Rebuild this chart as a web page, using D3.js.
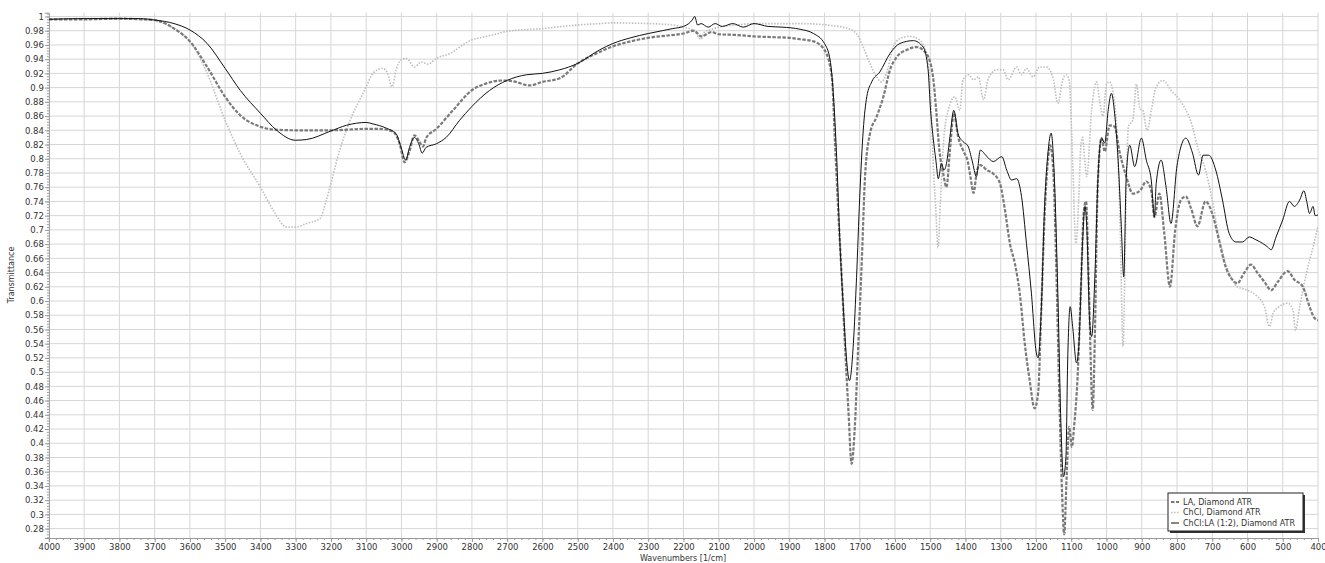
<!DOCTYPE html>
<html>
<head>
<meta charset="utf-8">
<script src="https://cdn.jsdelivr.net/npm/d3@7"></script>
<style>
body { margin: 0; background: #fff; }
text { font-family: "DejaVu Sans", Verdana, sans-serif; fill: #333; }
.grid line { stroke: #d6d6d6; stroke-width: 1; }
.axis path, .axis line { stroke: #999; }
</style>
</head>
<body>
<script>
// LA, Diamond ATR
var laWave = [4000,3900,3800,3740,3700,3645,3600,3551,3500,3457,3400,3363,3301,3200,3100,3062,3024,3005,2991,2977,2963,2949,2939,2930,2901,2854,2801,2759,2712,2684,2636,2600,2551,2500,2438,2400,2350,2300,2250,2200,2170,2150,2120,2100,2050,2000,1950,1900,1869,1831,1800,1779,1770,1761,1751,1742,1732,1723,1714,1704,1694,1685,1671,1652,1633,1614,1595,1567,1539,1511,1492,1483,1474,1463,1454,1444,1433,1421,1407,1393,1386,1377,1367,1358,1339,1321,1302,1288,1274,1260,1246,1232,1218,1204,1194,1185,1176,1166,1160,1151,1143,1134,1126,1120,1113,1106,1098,1092,1082,1073,1064,1058,1050,1039,1033,1025,1014,1005,991,977,963,944,925,905,887,873,864,850,836,820,805,789,775,760,742,719,700,681,662,643,629,610,590,571,552,533,514,486,467,443,424,410,400];
var laT = [0.996,0.996,0.997,0.996,0.995,0.983,0.965,0.929,0.887,0.861,0.845,0.841,0.840,0.840,0.842,0.842,0.838,0.821,0.795,0.811,0.833,0.824,0.817,0.829,0.842,0.868,0.896,0.906,0.910,0.909,0.903,0.908,0.913,0.934,0.950,0.958,0.965,0.970,0.973,0.976,0.980,0.972,0.978,0.975,0.974,0.972,0.971,0.970,0.968,0.965,0.953,0.915,0.821,0.727,0.633,0.540,0.446,0.371,0.422,0.540,0.657,0.774,0.835,0.859,0.887,0.925,0.943,0.953,0.957,0.948,0.915,0.868,0.812,0.779,0.760,0.812,0.864,0.831,0.812,0.795,0.775,0.752,0.784,0.791,0.784,0.779,0.765,0.728,0.681,0.653,0.611,0.541,0.489,0.449,0.470,0.587,0.714,0.798,0.819,0.784,0.658,0.470,0.330,0.272,0.353,0.423,0.395,0.423,0.493,0.611,0.728,0.740,0.620,0.447,0.550,0.760,0.829,0.810,0.847,0.845,0.810,0.775,0.751,0.755,0.768,0.755,0.718,0.751,0.695,0.620,0.700,0.742,0.747,0.730,0.705,0.740,0.723,0.686,0.648,0.630,0.625,0.639,0.651,0.639,0.627,0.615,0.627,0.642,0.630,0.620,0.592,0.576,0.573];

// ChCl, Diamond ATR
var chclWave = [4000,3900,3800,3740,3700,3645,3600,3551,3500,3457,3400,3363,3326,3301,3269,3231,3213,3175,3137,3119,3100,3081,3053,3039,3027,3015,3001,2986,2963,2944,2925,2901,2854,2835,2801,2769,2741,2701,2600,2500,2438,2400,2300,2230,2200,2170,2150,2140,2120,2100,2050,2000,1900,1869,1775,1727,1704,1690,1671,1652,1638,1624,1605,1586,1558,1530,1511,1499,1492,1484,1478,1470,1461,1449,1430,1416,1407,1391,1377,1363,1349,1335,1311,1293,1279,1255,1241,1227,1208,1190,1171,1152,1138,1124,1115,1106,1096,1087,1078,1073,1068,1062,1056,1042,1028,1019,1010,1000,991,975,962,953,946,938,925,915,905,897,885,872,860,840,815,793,756,742,719,700,681,662,643,629,605,576,552,538,527,510,486,471,464,452,433,414,400];
var chclT = [0.996,0.997,0.997,0.996,0.994,0.983,0.965,0.920,0.854,0.807,0.760,0.727,0.704,0.704,0.709,0.716,0.742,0.812,0.864,0.882,0.901,0.920,0.927,0.920,0.901,0.925,0.939,0.941,0.929,0.936,0.933,0.941,0.950,0.957,0.967,0.971,0.974,0.979,0.983,0.988,0.990,0.991,0.990,0.988,0.985,0.980,0.968,0.978,0.982,0.985,0.988,0.990,0.990,0.990,0.987,0.982,0.972,0.957,0.934,0.915,0.908,0.920,0.957,0.969,0.972,0.967,0.948,0.892,0.798,0.727,0.675,0.751,0.831,0.868,0.887,0.868,0.911,0.918,0.911,0.915,0.883,0.913,0.925,0.925,0.911,0.929,0.918,0.927,0.915,0.929,0.929,0.915,0.878,0.911,0.918,0.911,0.798,0.681,0.751,0.817,0.830,0.800,0.775,0.869,0.908,0.880,0.860,0.905,0.908,0.870,0.720,0.536,0.700,0.845,0.855,0.905,0.870,0.868,0.840,0.870,0.900,0.910,0.895,0.883,0.845,0.817,0.784,0.742,0.690,0.653,0.630,0.620,0.616,0.608,0.592,0.564,0.583,0.592,0.597,0.587,0.559,0.592,0.639,0.676,0.705];

// ChCl:LA (1:2), Diamond ATR
var mixWave = [4000,3900,3800,3740,3700,3645,3600,3551,3500,3457,3400,3354,3301,3269,3200,3156,3100,3081,3043,3015,3001,2988,2977,2963,2951,2941,2930,2901,2873,2835,2801,2750,2701,2646,2600,2551,2500,2438,2400,2350,2300,2260,2230,2200,2185,2175,2168,2160,2150,2130,2110,2090,2060,2030,2000,1960,1920,1869,1831,1800,1784,1775,1765,1756,1746,1737,1729,1718,1709,1700,1690,1680,1666,1643,1614,1586,1548,1520,1506,1499,1492,1484,1477,1468,1461,1454,1444,1433,1421,1407,1393,1381,1369,1358,1339,1321,1297,1283,1269,1255,1241,1227,1213,1199,1194,1185,1176,1166,1157,1148,1138,1129,1122,1115,1110,1103,1096,1085,1078,1068,1061,1056,1047,1042,1033,1024,1014,1005,995,986,977,967,958,951,944,934,920,901,887,873,864,859,845,831,817,800,775,756,739,726,710,690,671,652,633,614,595,576,557,543,533,519,500,481,467,452,440,432,424,414,408,400];
var mixT = [0.996,0.997,0.997,0.997,0.995,0.990,0.981,0.962,0.927,0.896,0.864,0.840,0.826,0.827,0.839,0.847,0.851,0.849,0.843,0.835,0.816,0.798,0.816,0.830,0.821,0.808,0.816,0.821,0.830,0.854,0.873,0.896,0.910,0.918,0.920,0.925,0.934,0.953,0.962,0.970,0.976,0.980,0.983,0.986,0.990,0.995,1.000,0.988,0.990,0.985,0.990,0.986,0.990,0.985,0.990,0.986,0.985,0.982,0.976,0.962,0.939,0.892,0.798,0.680,0.587,0.516,0.488,0.540,0.633,0.746,0.840,0.887,0.908,0.922,0.948,0.962,0.966,0.957,0.925,0.868,0.831,0.798,0.772,0.793,0.784,0.793,0.831,0.868,0.835,0.824,0.818,0.797,0.775,0.812,0.803,0.796,0.803,0.784,0.770,0.772,0.747,0.681,0.611,0.527,0.520,0.587,0.728,0.808,0.836,0.775,0.611,0.423,0.353,0.381,0.517,0.592,0.564,0.513,0.541,0.681,0.733,0.705,0.564,0.550,0.634,0.775,0.829,0.822,0.869,0.892,0.864,0.798,0.705,0.634,0.775,0.819,0.789,0.829,0.798,0.770,0.718,0.765,0.798,0.760,0.709,0.790,0.829,0.808,0.777,0.805,0.805,0.784,0.742,0.695,0.683,0.683,0.690,0.686,0.681,0.676,0.672,0.690,0.714,0.740,0.733,0.742,0.755,0.740,0.723,0.733,0.720,0.721];

var legendNames = ["LA, Diamond ATR", "ChCl, Diamond ATR", "ChCl:LA (1:2), Diamond ATR"];

var W = 1325, H = 563;
var svg = d3.select("body").append("svg").attr("width", W).attr("height", H);
svg.append("rect").attr("width", W).attr("height", H).attr("fill", "#fff");

var x = d3.scaleLinear().domain([4000, 400]).range([48.9, 1318]);
var y = d3.scaleLinear().domain([0.2668, 1.0053]).range([538, 12.7]);

var xTicks = d3.range(4000, 399, -100);
var yTicks = d3.range(0.28, 1.0001, 0.02).map(function(v) { return +v.toFixed(2); });

// grid
var grid = svg.append("g").attr("class", "grid");
grid.selectAll(".v").data(xTicks.filter(function(d) { return d < 4000; })).enter().append("line")
	.attr("x1", function(d) { return x(d); }).attr("x2", function(d) { return x(d); })
	.attr("y1", 12.7).attr("y2", 538);
grid.selectAll(".h").data(yTicks).enter().append("line")
	.attr("x1", 48.9).attr("x2", 1318)
	.attr("y1", function(d) { return y(d); }).attr("y2", function(d) { return y(d); });

// axes
var xAxis = svg.append("g").attr("class", "axis").attr("transform", "translate(0,538)")
	.call(d3.axisBottom(x).tickValues(xTicks).tickSize(4).tickPadding(2).tickFormat(d3.format("d")));
svg.append("g").attr("class", "axis").attr("transform", "translate(0,538)")
	.call(d3.axisBottom(x).tickValues(d3.range(4000, 399, -20)).tickSize(2).tickFormat(""))
	.select(".domain").remove();
xAxis.selectAll("text").attr("font-size", "8.5px");

var yAxis = svg.append("g").attr("class", "axis").attr("transform", "translate(48.9,0)")
	.call(d3.axisLeft(y).tickValues(yTicks).tickSize(4).tickFormat(function(d) { return String(+d.toFixed(2)); }));
svg.append("g").attr("class", "axis").attr("transform", "translate(48.9,0)")
	.call(d3.axisLeft(y).tickValues(d3.range(0.268, 1.005, 0.004)).tickSize(2).tickFormat(""))
	.select(".domain").remove();
yAxis.selectAll("text").attr("font-size", "8.5px").attr("x", -5);

svg.append("text").attr("x", 683).attr("y", 560.5).attr("text-anchor", "middle")
	.attr("font-size", "8px").text("Wavenumbers [1/cm]");
svg.append("text").attr("transform", "translate(14,275) rotate(-90)").attr("text-anchor", "middle")
	.attr("font-size", "8px").text("Transmittance");

// curves
svg.append("clipPath").attr("id", "clip").append("rect")
	.attr("x", 48.9).attr("y", 12.7).attr("width", 1269.1).attr("height", 525.3);
var line = d3.line()
	.x(function(d) { return x(d[0]); })
	.y(function(d) { return y(d[1]); })
	.curve(d3.curveMonotoneX);
var plot = svg.append("g").attr("clip-path", "url(#clip)");

var series = [
	{w: chclWave, t: chclT, color: "#bdbdbd", width: 1.6, dash: "1.5,1.5"},
	{w: laWave, t: laT, color: "#7a7a7a", width: 2.2, dash: "3.5,1.5"},
	{w: mixWave, t: mixT, color: "#111", width: 1, dash: null}
];
series.forEach(function(s) {
	plot.append("path")
		.datum(s.w.map(function(w, i) { return [w, s.t[i]]; }))
		.attr("fill", "none")
		.attr("stroke", s.color)
		.attr("stroke-width", s.width)
		.attr("stroke-dasharray", s.dash)
		.attr("d", line);
});

// legend
var lg = svg.append("g").attr("transform", "translate(1168,493)");
lg.append("rect").attr("x", 2).attr("y", 2).attr("width", 135).attr("height", 38).attr("fill", "#333");
lg.append("rect").attr("width", 135).attr("height", 38).attr("fill", "#fff").attr("stroke", "#222");
var legStyles = [series[1], series[0], series[2]];
legendNames.forEach(function(name, i) {
	var yy = 9 + i * 10.5;
	lg.append("line").attr("x1", 3).attr("x2", 11).attr("y1", yy).attr("y2", yy)
		.attr("stroke", legStyles[i].color).attr("stroke-width", legStyles[i].width)
		.attr("stroke-dasharray", legStyles[i].dash);
	lg.append("text").attr("x", 15).attr("y", yy).attr("dy", "0.35em")
		.attr("font-size", "8px").text(name);
});
</script>
</body>
</html>
